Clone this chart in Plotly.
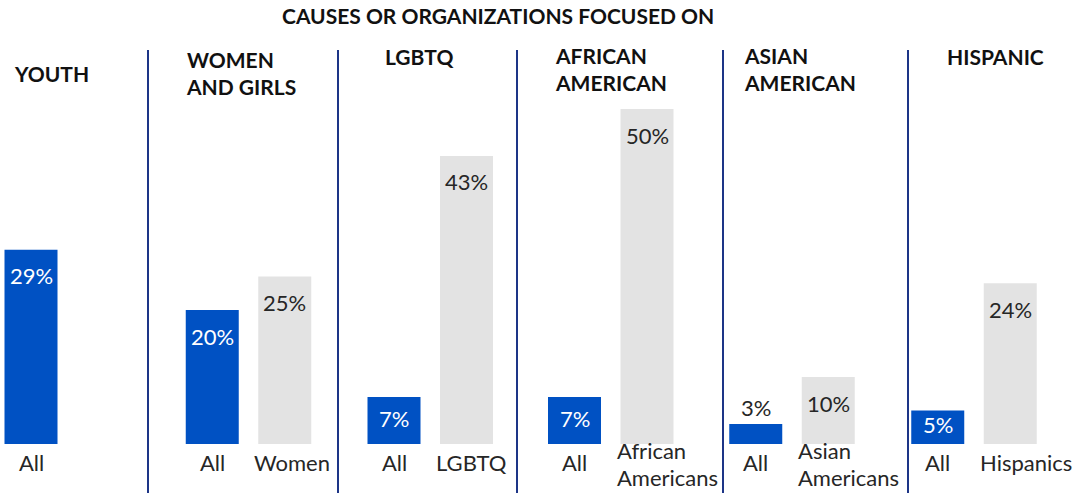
import plotly.graph_objects as go

# ---------------- data ----------------
group_titles = ["YOUTH", "WOMEN<br>AND GIRLS", "LGBTQ", "AFRICAN<br>AMERICAN", "ASIAN<br>AMERICAN", "HISPANIC"]
youth_cats = ["All"]
youth_vals = [29]
women_cats = ["All", "Women"]
women_vals = [20, 25]
lgbtq_cats = ["All", "LGBTQ"]
lgbtq_vals = [7, 43]
afam_cats = ["All", "African<br>Americans"]
afam_vals = [7, 50]
asian_cats = ["All", "Asian<br>Americans"]
asian_vals = [3, 10]
hisp_cats = ["All", "Hispanics"]
hisp_vals = [5, 24]
main_title = "CAUSES OR ORGANIZATIONS FOCUSED ON"

groups = [
    (youth_cats, youth_vals),
    (women_cats, women_vals),
    (lgbtq_cats, lgbtq_vals),
    (afam_cats, afam_vals),
    (asian_cats, asian_vals),
    (hisp_cats, hisp_vals),
]

# ---------------- layout / style ----------------
W, H = 1076, 493
MB = 49                      # bottom margin -> baseline at y=444px
PLOT_H = H - MB
PX_PER_PCT = 6.7
YMAX = PLOT_H / PX_PER_PCT
CAT_PX = 72.5                # width of one category slot
BAR_PX = 53.0
group_centers_px = [31, 248.5, 430.25, 610.75, 792, 974]
title_pos = [(12, 73), (184, 73), (383, 56), (553, 69), (742, 69), (945, 56)]
dividers_px = [148, 338, 517, 723, 908]
DIV_TOP = 50

BLUE = "#0051C3"
GRAY = "#E3E3E3"
NAVY = "#1D3587"
TXT = "#262626"
FONT = "Lato"
FS = 22


def py(p):
    return (PLOT_H - p) / PLOT_H


fig = go.Figure()
annotations = []
layout_axes = {}

for gi, ((cats, vals), cpx) in enumerate(zip(groups, group_centers_px)):
    n = len(cats)
    left = max(0.0, cpx - n * CAT_PX / 2)
    right = left + n * CAT_PX
    r0 = (n - 1) / 2 - (cpx - left) / CAT_PX
    r1 = r0 + (right - left) / CAT_PX
    xname = "x" if gi == 0 else f"x{gi + 1}"
    axkey = "xaxis" if gi == 0 else f"xaxis{gi + 1}"
    colors = [BLUE] + [GRAY] * (n - 1)
    fig.add_trace(go.Bar(
        x=list(range(n)), y=vals, xaxis=xname, yaxis="y",
        marker=dict(color=colors, line=dict(width=0)),
        hoverinfo="skip", showlegend=False,
    ))
    layout_axes[axkey] = dict(
        domain=[left / W, right / W], anchor="y", type="linear",
        range=[r0, r1], showticklabels=False,
        showgrid=False, zeroline=False, showline=False, ticks="",
        automargin=False, fixedrange=True,
    )
    half_bar = BAR_PX / CAT_PX / 2
    # category labels (one annotation per line for tight line spacing)
    for i, c in enumerate(cats):
        lines = c.split("<br>")
        if len(lines) == 1:
            offs = [18]
        else:
            offs = [6, 33]
        for ln, off in zip(lines, offs):
            if i == 0:
                annotations.append(dict(
                    x=i, y=0, xref=xname, yref="y", text=ln, showarrow=False,
                    xanchor="center", yanchor="middle", yshift=-off,
                    font=dict(family=FONT, size=FS, color=TXT)))
            else:
                annotations.append(dict(
                    x=i - half_bar, y=0, xref=xname, yref="y", text=ln, showarrow=False,
                    xanchor="left", yanchor="middle", yshift=-off, xshift=-6,
                    font=dict(family=FONT, size=FS, color=TXT)))
    # value labels
    for i, v in enumerate(vals):
        hpx = v * PX_PER_PCT
        if hpx < 28:
            annotations.append(dict(
                x=i, y=v, xref=xname, yref="y", text=f"{v}%", showarrow=False,
                yanchor="bottom", xanchor="center", yshift=1,
                font=dict(family=FONT, size=FS, color=TXT)))
        else:
            c = min(26, hpx / 2 - 2.5)
            annotations.append(dict(
                x=i, y=v, xref=xname, yref="y", text=f"{v}%", showarrow=False,
                yanchor="middle", xanchor="center", yshift=-c,
                font=dict(family=FONT, size=FS, color="white" if i == 0 else TXT)))
    # group header
    tx, ty = title_pos[gi]
    annotations.append(dict(
        x=tx / W, y=py(ty), xref="paper", yref="paper", text=f"<b>{group_titles[gi]}</b>",
        showarrow=False, xanchor="left", yanchor="middle", align="left",
        font=dict(family=FONT, size=21, color="#111111")))

annotations.append(dict(
    x=498 / W, y=py(16), xref="paper", yref="paper", text=f"<b>{main_title}</b>",
    showarrow=False, xanchor="center", yanchor="middle",
    font=dict(family=FONT, size=21, color="#111111")))

shapes = [dict(type="line", xref="paper", yref="paper",
               x0=d / W, x1=d / W, y0=py(DIV_TOP), y1=py(H),
               line=dict(color=NAVY, width=2)) for d in dividers_px]

fig.update_layout(
    width=W, height=H,
    margin=dict(l=0, r=0, t=0, b=MB, autoexpand=False),
    template="none",
    plot_bgcolor="white", paper_bgcolor="white",
    bargap=1 - BAR_PX / CAT_PX,
    yaxis=dict(range=[0, YMAX], visible=False, fixedrange=True),
    annotations=annotations,
    shapes=shapes,
    showlegend=False,
    font=dict(family=FONT, color=TXT),
    **layout_axes,
)

fig.write_html(
    "out.html",
    config={"displayModeBar": False},
    post_script="document.body.style.margin='0';document.body.style.overflow='hidden';",
)
